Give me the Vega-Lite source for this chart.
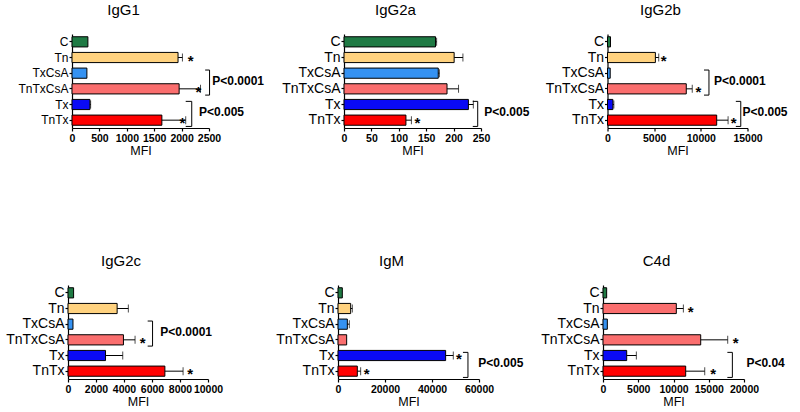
{
"$schema":"https://vega.github.io/schema/vega-lite/v6.json",
"background":"white",
"padding":{"left":5,"top":3,"right":0,"bottom":0},
"datasets":{
"bars":[
{"p":"IgG1","g":"C","c":"C","v":290,"hi":null,"s":null},
{"p":"IgG1","g":"Tn","c":"Tn","v":1935,"hi":2015,"s":2166},
{"p":"IgG1","g":"TxCsA","c":"TxCsA","v":272,"hi":null,"s":null},
{"p":"IgG1","g":"TnTxCsA","c":"TnTxCsA","v":1955,"hi":2345,"s":2305},
{"p":"IgG1","g":"Tx","c":"Tx","v":327,"hi":340,"s":null},
{"p":"IgG1","g":"TnTx","c":"TnTx","v":1640,"hi":2075,"s":2015},
{"p":"IgG2a","g":"C","c":"C","v":167,"hi":169,"s":null},
{"p":"IgG2a","g":"Tn","c":"Tn","v":201,"hi":217,"s":null},
{"p":"IgG2a","g":"TxCsA","c":"TxCsA","v":172,"hi":174,"s":null},
{"p":"IgG2a","g":"TnTxCsA","c":"TnTxCsA","v":188,"hi":209,"s":null},
{"p":"IgG2a","g":"Tx","c":"Tx","v":227,"hi":236,"s":null},
{"p":"IgG2a","g":"TnTx","c":"TnTx","v":113,"hi":123,"s":134},
{"p":"IgG2b","g":"C","c":"C","v":320,"hi":null,"s":null},
{"p":"IgG2b","g":"Tn","c":"Tn","v":5130,"hi":5490,"s":6030},
{"p":"IgG2b","g":"TxCsA","c":"TxCsA","v":290,"hi":null,"s":null},
{"p":"IgG2b","g":"TnTxCsA","c":"TnTxCsA","v":8440,"hi":9080,"s":9730},
{"p":"IgG2b","g":"Tx","c":"Tx","v":575,"hi":680,"s":null},
{"p":"IgG2b","g":"TnTx","c":"TnTx","v":11700,"hi":12920,"s":13530},
{"p":"IgG2c","g":"C","c":"C","v":400,"hi":null,"s":null},
{"p":"IgG2c","g":"Tn","c":"Tn","v":3510,"hi":4310,"s":null},
{"p":"IgG2c","g":"TxCsA","c":"TxCsA","v":355,"hi":null,"s":null},
{"p":"IgG2c","g":"TnTxCsA","c":"TnTxCsA","v":3960,"hi":4790,"s":5330},
{"p":"IgG2c","g":"Tx","c":"Tx","v":2680,"hi":3910,"s":null},
{"p":"IgG2c","g":"TnTx","c":"TnTx","v":6920,"hi":8220,"s":8720},
{"p":"IgM","g":"C","c":"C","v":1840,"hi":null,"s":null},
{"p":"IgM","g":"Tn","c":"Tn","v":5390,"hi":6100,"s":null},
{"p":"IgM","g":"TxCsA","c":"TxCsA","v":3970,"hi":4820,"s":null},
{"p":"IgM","g":"TnTxCsA","c":"TnTxCsA","v":3690,"hi":null,"s":null},
{"p":"IgM","g":"Tx","c":"Tx","v":45800,"hi":49060,"s":51470},
{"p":"IgM","g":"TnTx","c":"TnTx","v":8220,"hi":9640,"s":12190},
{"p":"C4d","g":"C","c":"C","v":520,"hi":null,"s":null},
{"p":"C4d","g":"Tn","c":"TnTxCsA","v":10400,"hi":11400,"s":12440},
{"p":"C4d","g":"TxCsA","c":"TxCsA","v":615,"hi":null,"s":null},
{"p":"C4d","g":"TnTxCsA","c":"TnTxCsA","v":13860,"hi":17690,"s":18820},
{"p":"C4d","g":"Tx","c":"Tx","v":3360,"hi":4730,"s":null},
{"p":"C4d","g":"TnTx","c":"TnTx","v":11730,"hi":14430,"s":15610}
],
"brackets":[
{"p":"IgG1","g1":"TxCsA","g2":"TnTxCsA","ax":2430,"bx":2510,"tx":2560,"label":"P<0.0001"},
{"p":"IgG1","g1":"Tx","g2":"TnTx","ax":2075,"bx":2185,"tx":2317,"label":"P<0.005"},
{"p":"IgG2a","g1":"Tx","g2":"TnTx","ax":235,"bx":244,"tx":256,"label":"P<0.005"},
{"p":"IgG2b","g1":"TxCsA","g2":"TnTxCsA","ax":10340,"bx":10870,"tx":11410,"label":"P<0.0001"},
{"p":"IgG2b","g1":"Tx","g2":"TnTx","ax":13750,"bx":14280,"tx":14460,"label":"P<0.005"},
{"p":"IgG2c","g1":"TxCsA","g2":"TnTxCsA","ax":5690,"bx":6040,"tx":6590,"label":"P<0.0001"},
{"p":"IgM","g1":"Tx","g2":"TnTx","ax":53170,"bx":55300,"tx":59700,"label":"P<0.005"},
{"p":"C4d","g1":"Tx","g2":"TnTx","ax":17640,"bx":18350,"tx":20340,"label":"P<0.04"}
],
"blank":[{"k":1}]
},
"bounds":"flush",
"spacing":251,
"vconcat":[
{"bounds":"flush","spacing":3,"hconcat":[
{"width":1,"height":1,"data":{"name":"blank"},"mark":{"type":"text","text":""},"encoding":{}},
{"bounds":"flush","spacing":135,"hconcat":[
{"width":137,"height":94,"title":"IgG1","layer":[
{"data":{"name":"bars"},"transform":[{"filter":"datum.p==='IgG1'"}],"mark":{"type":"bar","height":{"band":0.65}},"encoding":{
"y":{"field":"g","type":"nominal","title":null,"scale":{"domain":["C","Tn","TxCsA","TnTxCsA","Tx","TnTx"],"paddingInner":0,"paddingOuter":0},"axis":{"labelFontSize":12,"title":null}},
"x":{"field":"v","type":"quantitative","scale":{"domain":[0,2500],"nice":false},"axis":{"title":"MFI","values":[0,500,1000,1500,2000,2500],"tickCount":20,"format":"d","labelOverlap":false}},
"fill":{"field":"c","type":"nominal","legend":null,"scale":{"domain":["C","Tn","TxCsA","TnTxCsA","Tx","TnTx"],"range":["#1f7a44","#ffd27f","#3592f2","#fa6e6e","#0a0af5","#ff0000"]}}}},
{"data":{"name":"bars"},"transform":[{"filter":"datum.p==='IgG1' && datum.hi != null"}],"mark":"rule","encoding":{"y":{"field":"g","type":"nominal"},"x":{"field":"v","type":"quantitative"},"x2":{"field":"hi"}}},
{"data":{"name":"bars"},"transform":[{"filter":"datum.p==='IgG1' && datum.hi != null"}],"mark":{"type":"tick","size":8},"encoding":{"y":{"field":"g","type":"nominal"},"x":{"field":"hi","type":"quantitative"}}},
{"data":{"name":"bars"},"transform":[{"filter":"datum.p==='IgG1' && datum.s != null"}],"mark":{"type":"text","text":"*","fontSize":15,"fontWeight":"bold","baseline":"alphabetic","dy":8},"encoding":{"y":{"field":"g","type":"nominal"},"x":{"field":"s","type":"quantitative"}}},
{"data":{"name":"brackets"},"transform":[{"filter":"datum.p==='IgG1'"}],"mark":"rule","encoding":{"x":{"field":"bx","type":"quantitative"},"y":{"field":"g1","type":"nominal","bandPosition":0.3},"y2":{"field":"g2","bandPosition":0.9}}},
{"data":{"name":"brackets"},"transform":[{"filter":"datum.p==='IgG1'"}],"mark":"rule","encoding":{"x":{"field":"ax","type":"quantitative"},"x2":{"field":"bx"},"y":{"field":"g1","type":"nominal","bandPosition":0.3}}},
{"data":{"name":"brackets"},"transform":[{"filter":"datum.p==='IgG1'"}],"mark":"rule","encoding":{"x":{"field":"ax","type":"quantitative"},"x2":{"field":"bx"},"y":{"field":"g2","type":"nominal","bandPosition":0.9}}},
{"data":{"name":"brackets"},"transform":[{"filter":"datum.p==='IgG1'"}],"mark":{"type":"text","align":"left","baseline":"middle","fontSize":12,"fontWeight":"bold"},"encoding":{"x":{"field":"tx","type":"quantitative"},"y":{"field":"g1","type":"nominal","bandPosition":1},"text":{"field":"label"}}}
]},
{"bounds":"flush","spacing":126.5,"hconcat":[
{"width":137,"height":94,"title":"IgG2a","layer":[
{"data":{"name":"bars"},"transform":[{"filter":"datum.p==='IgG2a'"}],"mark":{"type":"bar","height":{"band":0.65}},"encoding":{
"y":{"field":"g","type":"nominal","title":null,"scale":{"domain":["C","Tn","TxCsA","TnTxCsA","Tx","TnTx"],"paddingInner":0,"paddingOuter":0},"axis":{"title":null}},
"x":{"field":"v","type":"quantitative","scale":{"domain":[0,250],"nice":false},"axis":{"title":"MFI","values":[0,50,100,150,200,250],"tickCount":20,"format":"d","labelOverlap":false}},
"fill":{"field":"c","type":"nominal","legend":null,"scale":{"domain":["C","Tn","TxCsA","TnTxCsA","Tx","TnTx"],"range":["#1f7a44","#ffd27f","#3592f2","#fa6e6e","#0a0af5","#ff0000"]}}}},
{"data":{"name":"bars"},"transform":[{"filter":"datum.p==='IgG2a' && datum.hi != null"}],"mark":"rule","encoding":{"y":{"field":"g","type":"nominal"},"x":{"field":"v","type":"quantitative"},"x2":{"field":"hi"}}},
{"data":{"name":"bars"},"transform":[{"filter":"datum.p==='IgG2a' && datum.hi != null"}],"mark":{"type":"tick","size":8},"encoding":{"y":{"field":"g","type":"nominal"},"x":{"field":"hi","type":"quantitative"}}},
{"data":{"name":"bars"},"transform":[{"filter":"datum.p==='IgG2a' && datum.s != null"}],"mark":{"type":"text","text":"*","fontSize":15,"fontWeight":"bold","baseline":"alphabetic","dy":8},"encoding":{"y":{"field":"g","type":"nominal"},"x":{"field":"s","type":"quantitative"}}},
{"data":{"name":"brackets"},"transform":[{"filter":"datum.p==='IgG2a'"}],"mark":"rule","encoding":{"x":{"field":"bx","type":"quantitative"},"y":{"field":"g1","type":"nominal","bandPosition":0.3},"y2":{"field":"g2","bandPosition":0.9}}},
{"data":{"name":"brackets"},"transform":[{"filter":"datum.p==='IgG2a'"}],"mark":"rule","encoding":{"x":{"field":"ax","type":"quantitative"},"x2":{"field":"bx"},"y":{"field":"g1","type":"nominal","bandPosition":0.3}}},
{"data":{"name":"brackets"},"transform":[{"filter":"datum.p==='IgG2a'"}],"mark":"rule","encoding":{"x":{"field":"ax","type":"quantitative"},"x2":{"field":"bx"},"y":{"field":"g2","type":"nominal","bandPosition":0.9}}},
{"data":{"name":"brackets"},"transform":[{"filter":"datum.p==='IgG2a'"}],"mark":{"type":"text","align":"left","baseline":"middle","fontSize":12,"fontWeight":"bold"},"encoding":{"x":{"field":"tx","type":"quantitative"},"y":{"field":"g1","type":"nominal","bandPosition":1},"text":{"field":"label"}}}
]},
{"width":140,"height":94,"title":"IgG2b","layer":[
{"data":{"name":"bars"},"transform":[{"filter":"datum.p==='IgG2b'"}],"mark":{"type":"bar","height":{"band":0.65}},"encoding":{
"y":{"field":"g","type":"nominal","title":null,"scale":{"domain":["C","Tn","TxCsA","TnTxCsA","Tx","TnTx"],"paddingInner":0,"paddingOuter":0},"axis":{"title":null}},
"x":{"field":"v","type":"quantitative","scale":{"domain":[0,15000],"nice":false},"axis":{"title":"MFI","values":[0,5000,10000,15000],"tickCount":20,"format":"d","labelOverlap":false}},
"fill":{"field":"c","type":"nominal","legend":null,"scale":{"domain":["C","Tn","TxCsA","TnTxCsA","Tx","TnTx"],"range":["#1f7a44","#ffd27f","#3592f2","#fa6e6e","#0a0af5","#ff0000"]}}}},
{"data":{"name":"bars"},"transform":[{"filter":"datum.p==='IgG2b' && datum.hi != null"}],"mark":"rule","encoding":{"y":{"field":"g","type":"nominal"},"x":{"field":"v","type":"quantitative"},"x2":{"field":"hi"}}},
{"data":{"name":"bars"},"transform":[{"filter":"datum.p==='IgG2b' && datum.hi != null"}],"mark":{"type":"tick","size":8},"encoding":{"y":{"field":"g","type":"nominal"},"x":{"field":"hi","type":"quantitative"}}},
{"data":{"name":"bars"},"transform":[{"filter":"datum.p==='IgG2b' && datum.s != null"}],"mark":{"type":"text","text":"*","fontSize":15,"fontWeight":"bold","baseline":"alphabetic","dy":8},"encoding":{"y":{"field":"g","type":"nominal"},"x":{"field":"s","type":"quantitative"}}},
{"data":{"name":"brackets"},"transform":[{"filter":"datum.p==='IgG2b'"}],"mark":"rule","encoding":{"x":{"field":"bx","type":"quantitative"},"y":{"field":"g1","type":"nominal","bandPosition":0.3},"y2":{"field":"g2","bandPosition":0.9}}},
{"data":{"name":"brackets"},"transform":[{"filter":"datum.p==='IgG2b'"}],"mark":"rule","encoding":{"x":{"field":"ax","type":"quantitative"},"x2":{"field":"bx"},"y":{"field":"g1","type":"nominal","bandPosition":0.3}}},
{"data":{"name":"brackets"},"transform":[{"filter":"datum.p==='IgG2b'"}],"mark":"rule","encoding":{"x":{"field":"ax","type":"quantitative"},"x2":{"field":"bx"},"y":{"field":"g2","type":"nominal","bandPosition":0.9}}},
{"data":{"name":"brackets"},"transform":[{"filter":"datum.p==='IgG2b'"}],"mark":{"type":"text","align":"left","baseline":"middle","fontSize":12,"fontWeight":"bold"},"encoding":{"x":{"field":"tx","type":"quantitative"},"y":{"field":"g1","type":"nominal","bandPosition":1},"text":{"field":"label"}}}
]}
]}
]}
]},
{"bounds":"flush","spacing":130,"hconcat":[
{"width":140,"height":94,"title":"IgG2c","layer":[
{"data":{"name":"bars"},"transform":[{"filter":"datum.p==='IgG2c'"}],"mark":{"type":"bar","height":{"band":0.65}},"encoding":{
"y":{"field":"g","type":"nominal","title":null,"scale":{"domain":["C","Tn","TxCsA","TnTxCsA","Tx","TnTx"],"paddingInner":0,"paddingOuter":0},"axis":{"title":null}},
"x":{"field":"v","type":"quantitative","scale":{"domain":[0,10000],"nice":false},"axis":{"title":"MFI","values":[0,2000,4000,6000,8000,10000],"tickCount":20,"format":"d","labelOverlap":false}},
"fill":{"field":"c","type":"nominal","legend":null,"scale":{"domain":["C","Tn","TxCsA","TnTxCsA","Tx","TnTx"],"range":["#1f7a44","#ffd27f","#3592f2","#fa6e6e","#0a0af5","#ff0000"]}}}},
{"data":{"name":"bars"},"transform":[{"filter":"datum.p==='IgG2c' && datum.hi != null"}],"mark":"rule","encoding":{"y":{"field":"g","type":"nominal"},"x":{"field":"v","type":"quantitative"},"x2":{"field":"hi"}}},
{"data":{"name":"bars"},"transform":[{"filter":"datum.p==='IgG2c' && datum.hi != null"}],"mark":{"type":"tick","size":8},"encoding":{"y":{"field":"g","type":"nominal"},"x":{"field":"hi","type":"quantitative"}}},
{"data":{"name":"bars"},"transform":[{"filter":"datum.p==='IgG2c' && datum.s != null"}],"mark":{"type":"text","text":"*","fontSize":15,"fontWeight":"bold","baseline":"alphabetic","dy":8},"encoding":{"y":{"field":"g","type":"nominal"},"x":{"field":"s","type":"quantitative"}}},
{"data":{"name":"brackets"},"transform":[{"filter":"datum.p==='IgG2c'"}],"mark":"rule","encoding":{"x":{"field":"bx","type":"quantitative"},"y":{"field":"g1","type":"nominal","bandPosition":0.3},"y2":{"field":"g2","bandPosition":0.9}}},
{"data":{"name":"brackets"},"transform":[{"filter":"datum.p==='IgG2c'"}],"mark":"rule","encoding":{"x":{"field":"ax","type":"quantitative"},"x2":{"field":"bx"},"y":{"field":"g1","type":"nominal","bandPosition":0.3}}},
{"data":{"name":"brackets"},"transform":[{"filter":"datum.p==='IgG2c'"}],"mark":"rule","encoding":{"x":{"field":"ax","type":"quantitative"},"x2":{"field":"bx"},"y":{"field":"g2","type":"nominal","bandPosition":0.9}}},
{"data":{"name":"brackets"},"transform":[{"filter":"datum.p==='IgG2c'"}],"mark":{"type":"text","align":"left","baseline":"middle","fontSize":12,"fontWeight":"bold"},"encoding":{"x":{"field":"tx","type":"quantitative"},"y":{"field":"g1","type":"nominal","bandPosition":1},"text":{"field":"label"}}}
]},
{"bounds":"flush","spacing":124,"hconcat":[
{"width":141,"height":94,"title":"IgM","layer":[
{"data":{"name":"bars"},"transform":[{"filter":"datum.p==='IgM'"}],"mark":{"type":"bar","height":{"band":0.65}},"encoding":{
"y":{"field":"g","type":"nominal","title":null,"scale":{"domain":["C","Tn","TxCsA","TnTxCsA","Tx","TnTx"],"paddingInner":0,"paddingOuter":0},"axis":{"title":null}},
"x":{"field":"v","type":"quantitative","scale":{"domain":[0,60000],"nice":false},"axis":{"title":"MFI","values":[0,20000,40000,60000],"tickCount":20,"format":"d","labelOverlap":false}},
"fill":{"field":"c","type":"nominal","legend":null,"scale":{"domain":["C","Tn","TxCsA","TnTxCsA","Tx","TnTx"],"range":["#1f7a44","#ffd27f","#3592f2","#fa6e6e","#0a0af5","#ff0000"]}}}},
{"data":{"name":"bars"},"transform":[{"filter":"datum.p==='IgM' && datum.hi != null"}],"mark":"rule","encoding":{"y":{"field":"g","type":"nominal"},"x":{"field":"v","type":"quantitative"},"x2":{"field":"hi"}}},
{"data":{"name":"bars"},"transform":[{"filter":"datum.p==='IgM' && datum.hi != null"}],"mark":{"type":"tick","size":8},"encoding":{"y":{"field":"g","type":"nominal"},"x":{"field":"hi","type":"quantitative"}}},
{"data":{"name":"bars"},"transform":[{"filter":"datum.p==='IgM' && datum.s != null"}],"mark":{"type":"text","text":"*","fontSize":15,"fontWeight":"bold","baseline":"alphabetic","dy":8},"encoding":{"y":{"field":"g","type":"nominal"},"x":{"field":"s","type":"quantitative"}}},
{"data":{"name":"brackets"},"transform":[{"filter":"datum.p==='IgM'"}],"mark":"rule","encoding":{"x":{"field":"bx","type":"quantitative"},"y":{"field":"g1","type":"nominal","bandPosition":0.3},"y2":{"field":"g2","bandPosition":0.9}}},
{"data":{"name":"brackets"},"transform":[{"filter":"datum.p==='IgM'"}],"mark":"rule","encoding":{"x":{"field":"ax","type":"quantitative"},"x2":{"field":"bx"},"y":{"field":"g1","type":"nominal","bandPosition":0.3}}},
{"data":{"name":"brackets"},"transform":[{"filter":"datum.p==='IgM'"}],"mark":"rule","encoding":{"x":{"field":"ax","type":"quantitative"},"x2":{"field":"bx"},"y":{"field":"g2","type":"nominal","bandPosition":0.9}}},
{"data":{"name":"brackets"},"transform":[{"filter":"datum.p==='IgM'"}],"mark":{"type":"text","align":"left","baseline":"middle","fontSize":12,"fontWeight":"bold"},"encoding":{"x":{"field":"tx","type":"quantitative"},"y":{"field":"g1","type":"nominal","bandPosition":1},"text":{"field":"label"}}}
]},
{"width":141,"height":94,"title":"C4d","layer":[
{"data":{"name":"bars"},"transform":[{"filter":"datum.p==='C4d'"}],"mark":{"type":"bar","height":{"band":0.65}},"encoding":{
"y":{"field":"g","type":"nominal","title":null,"scale":{"domain":["C","Tn","TxCsA","TnTxCsA","Tx","TnTx"],"paddingInner":0,"paddingOuter":0},"axis":{"title":null}},
"x":{"field":"v","type":"quantitative","scale":{"domain":[0,20000],"nice":false},"axis":{"title":"MFI","values":[0,5000,10000,15000,20000],"tickCount":20,"format":"d","labelOverlap":false}},
"fill":{"field":"c","type":"nominal","legend":null,"scale":{"domain":["C","Tn","TxCsA","TnTxCsA","Tx","TnTx"],"range":["#1f7a44","#ffd27f","#3592f2","#fa6e6e","#0a0af5","#ff0000"]}}}},
{"data":{"name":"bars"},"transform":[{"filter":"datum.p==='C4d' && datum.hi != null"}],"mark":"rule","encoding":{"y":{"field":"g","type":"nominal"},"x":{"field":"v","type":"quantitative"},"x2":{"field":"hi"}}},
{"data":{"name":"bars"},"transform":[{"filter":"datum.p==='C4d' && datum.hi != null"}],"mark":{"type":"tick","size":8},"encoding":{"y":{"field":"g","type":"nominal"},"x":{"field":"hi","type":"quantitative"}}},
{"data":{"name":"bars"},"transform":[{"filter":"datum.p==='C4d' && datum.s != null"}],"mark":{"type":"text","text":"*","fontSize":15,"fontWeight":"bold","baseline":"alphabetic","dy":8},"encoding":{"y":{"field":"g","type":"nominal"},"x":{"field":"s","type":"quantitative"}}},
{"data":{"name":"brackets"},"transform":[{"filter":"datum.p==='C4d'"}],"mark":"rule","encoding":{"x":{"field":"bx","type":"quantitative"},"y":{"field":"g1","type":"nominal","bandPosition":0.3},"y2":{"field":"g2","bandPosition":0.9}}},
{"data":{"name":"brackets"},"transform":[{"filter":"datum.p==='C4d'"}],"mark":"rule","encoding":{"x":{"field":"ax","type":"quantitative"},"x2":{"field":"bx"},"y":{"field":"g1","type":"nominal","bandPosition":0.3}}},
{"data":{"name":"brackets"},"transform":[{"filter":"datum.p==='C4d'"}],"mark":"rule","encoding":{"x":{"field":"ax","type":"quantitative"},"x2":{"field":"bx"},"y":{"field":"g2","type":"nominal","bandPosition":0.9}}},
{"data":{"name":"brackets"},"transform":[{"filter":"datum.p==='C4d'"}],"mark":{"type":"text","align":"left","baseline":"middle","fontSize":12,"fontWeight":"bold"},"encoding":{"x":{"field":"tx","type":"quantitative"},"y":{"field":"g1","type":"nominal","bandPosition":1},"text":{"field":"label"}}}
]}
]}
]}
],
"config":{
"view":{"stroke":null},
"font":"Liberation Sans",
"axis":{"domainColor":"#000","tickColor":"#000","labelColor":"#000","titleColor":"#000","grid":false,"tickSize":3,"domainWidth":1.2,"tickWidth":1.2,"labelFont":"Liberation Sans","titleFont":"Liberation Sans","titleFontWeight":"normal"},
"axisX":{"labelFontWeight":"bold","labelFontSize":10.5,"labelFlush":false,"labelOverlap":false,"labelPadding":2,"titleFontSize":12.5,"titlePadding":1},
"axisY":{"labelFontSize":14,"labelPadding":1},
"title":{"fontSize":15,"fontWeight":"normal","font":"Liberation Sans","color":"#000","frame":"group","anchor":"middle","dx":-17,"offset":16},
"bar":{"stroke":"#000","strokeWidth":1},
"rule":{"color":"#000","strokeWidth":1},
"tick":{"color":"#000","thickness":1},
"text":{"color":"#000","font":"Liberation Sans"}
}
}
